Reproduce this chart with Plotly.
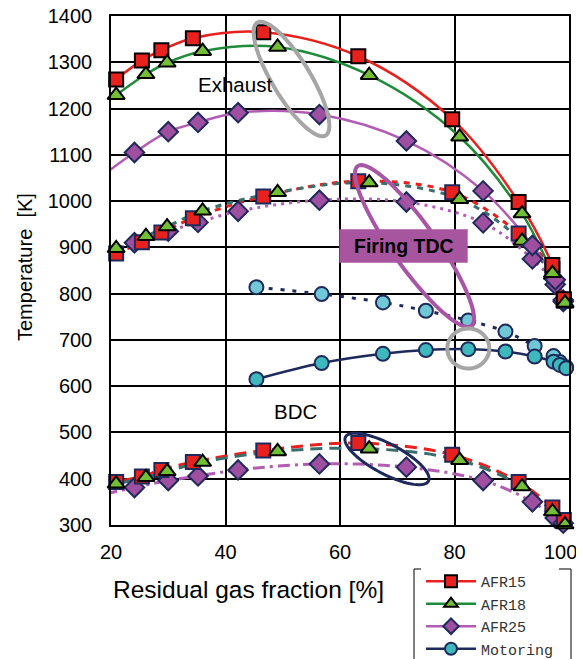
import numpy as np
import plotly.graph_objects as go

# ---------------- data ----------------
x15 = [20.9, 25.4, 28.8, 34.3, 46.6, 63.2, 79.6, 91.2, 97.1, 99.1]
exh15 = [1263, 1304, 1326, 1352, 1365, 1313, 1177, 998, 862, 788]
tdc15 = [887, 911, 932, 963, 1010, 1043, 1019, 930, 852, 785]
bdc15 = [393, 405, 419, 436, 461, 477, 452, 393, 338, 311]

x18 = [20.9, 26.1, 29.8, 36.0, 49.1, 65.1, 80.9, 91.8, 97.1, 99.3]
exh18 = [1229, 1274, 1299, 1324, 1333, 1272, 1139, 973, 844, 780]
tdc18 = [898, 924, 945, 979, 1019, 1040, 1004, 914, 840, 778]
bdc18 = [389, 403, 416, 436, 459, 465, 440, 383, 329, 301]

x25 = [24.1, 30.0, 35.2, 42.2, 56.4, 71.6, 85.0, 93.6, 97.6, 99.0]
exh25 = [1105, 1150, 1170, 1191, 1187, 1130, 1022, 904, 830, 786]
tdc25 = [910, 935, 954, 978, 1002, 998, 953, 875, 820, 783]
bdc25 = [381, 396, 406, 419, 432, 425, 396, 350, 315, 304]

xmot = [45.4, 56.8, 67.5, 75.0, 82.4, 88.9, 94.0, 97.3, 98.4, 99.5]
mot_tdc = [814, 799, 781, 763, 742, 718, 687, 665, 652, 641]
mot_bdc = [615, 650, 670, 678, 680, 675, 664, 653, 646, 639]

legend_names = ["AFR15", "AFR18", "AFR25", "Motoring"]
x_ticks = [20, 40, 60, 80, 100]
x_ticklabels = ["20", "40", "60", "80", "100"]
y_ticks = list(range(300, 1401, 100))

# ---------------- styles ----------------
RED = "#E8201E"
GREEN_L = "#1E8B3A"
GREEN_F = "#72BF35"
PURP_L = "#B25CB3"
PURP_F = "#9E4FA0"
NAVY = "#1F2A5C"
TEAL = "#3A6E6C"
CYAN_S = "#3DB9BD"
CYAN_D = "#70C8D6"

# page offset introduced by the default body margin of the html page
OFF = 8
WIN_W, WIN_H = 584, 659
W, H = WIN_W - OFF, WIN_H - OFF
# plot area in page pixels
PL, PR, PT, PB = 111, 569, 16, 525
PW, PH = PR - PL, PB - PT
L, T = PL - OFF, PT - OFF
R, B = W - (PR - OFF), H - (PB - OFF)
XR, YR = (20, 100), (300, 1400)


def px2x(px):
    return XR[0] + (px - PL) / PW * (XR[1] - XR[0])


def py2y(py):
    return YR[1] - (py - PT) / PH * (YR[1] - YR[0])


def px2paper(px):
    return (px - PL) / PW


def py2paper(py):
    return (PB - py) / PH


fig = go.Figure()


def add_line(x, y, color, width, dash="solid", extend_to=None):
    xs, ys = list(x), list(y)
    if extend_to is not None:
        c = np.polyfit(xs[:4], ys[:4], 2)
        xs = [extend_to] + xs
        ys = [float(np.polyval(c, extend_to))] + ys
    fig.add_trace(go.Scatter(x=xs, y=ys, mode="lines", showlegend=False,
                             line=dict(color=color, width=width, dash=dash,
                                       shape="spline", smoothing=1.0),
                             hoverinfo="skip"))


def add_markers(x, y, symbol, size, fill, edge, ew=2):
    fig.add_trace(go.Scatter(x=x, y=y, mode="markers", showlegend=False,
                             cliponaxis=False,
                             marker=dict(symbol=symbol, size=size, color=fill,
                                         line=dict(color=edge, width=ew))))


# BDC lines
add_line(x15, bdc15, RED, 3, "12px,7px", extend_to=19.0)
add_line(x18, bdc18, TEAL, 3, "12px,7px", extend_to=19.0)
add_line(x25, bdc25, PURP_L, 3, "12px,5px,3px,5px", extend_to=19.0)
# Firing TDC lines
add_line(x15, tdc15, RED, 3, "6px,6px")
add_line(x18, tdc18, TEAL, 3, "6px,6px")
add_line(x25, tdc25, PURP_L, 3, "3px,5px")
# Motoring lines
add_line(xmot, mot_tdc, NAVY, 3, "4px,8px")
add_line(xmot, mot_bdc, NAVY, 2.5)
# Exhaust lines
add_line(x25, exh25, PURP_L, 2.5, extend_to=19.5)
add_line(x18, exh18, GREEN_L, 2.5)
add_line(x15, exh15, RED, 2.5)

# markers
add_markers(x25, bdc25, "diamond", 15, PURP_F, NAVY)
add_markers(x15, bdc15, "square", 14, RED, NAVY)
add_markers(x18, bdc18, "triangle-up", 15, GREEN_F, "black")
add_markers(x25, tdc25, "diamond", 15, PURP_F, NAVY)
add_markers(x15, tdc15, "square", 14, RED, NAVY)
add_markers(x18, tdc18, "triangle-up", 15, GREEN_F, "black")
add_markers(xmot, mot_tdc, "circle", 14, CYAN_D, NAVY)
add_markers(xmot, mot_bdc, "circle", 14, CYAN_S, NAVY)
add_markers(x25, exh25, "diamond", 15, PURP_F, NAVY)
add_markers(x15, exh15, "square", 14, RED, "black")
add_markers(x18, exh18, "triangle-up", 15, GREEN_F, "black")

# legend entries
leg_styles = [
    (RED, "square", RED, "black"),
    (GREEN_L, "triangle-up", GREEN_F, "black"),
    (PURP_L, "diamond", PURP_F, NAVY),
    (NAVY, "circle", CYAN_S, NAVY),
]
for name, (lc, sym, fc, ec) in zip(legend_names, leg_styles):
    fig.add_trace(go.Scatter(x=[None], y=[None], mode="lines+markers", name=name,
                             line=dict(color=lc, width=2.5),
                             marker=dict(symbol=sym, size=12, color=fc,
                                         line=dict(color=ec, width=2))))


# ---------------- annotation shapes ----------------
def ellipse_path(cx, cy, a, b, ang, n=90):
    t = np.linspace(0, 2 * np.pi, n)
    th = np.deg2rad(ang)
    ex = cx + a * np.cos(t) * np.cos(th) - b * np.sin(t) * np.sin(th)
    ey = cy + a * np.cos(t) * np.sin(th) + b * np.sin(t) * np.cos(th)
    pts = [f"{px2x(u):.4f},{py2y(v):.4f}" for u, v in zip(ex, ey)]
    return "M" + " L".join(pts) + " Z"


shapes = [
    dict(type="path", path=ellipse_path(291.5, 79, 66, 19, 58.8), xref="x", yref="y",
         line=dict(color="#A6A6A6", width=4), layer="above"),
    dict(type="path", path=ellipse_path(414.5, 246, 98, 22, 54.6), xref="x", yref="y",
         line=dict(color="#A855A5", width=4), layer="above"),
    dict(type="path", path=ellipse_path(468.3, 348.5, 21, 20, 0), xref="x", yref="y",
         line=dict(color="#A6A6A6", width=4), layer="above"),
    dict(type="path", path=ellipse_path(387, 459, 47, 15, 28), xref="x", yref="y",
         line=dict(color=NAVY, width=3), layer="above"),
    dict(type="rect", xref="x", yref="y", x0=px2x(339.3), x1=px2x(467.7),
         y0=py2y(262.7), y1=py2y(229.3), fillcolor="#A8559F",
         line=dict(width=0), layer="above"),
    # legend frame (runs past the bottom edge, as in the reference)
    dict(type="rect", xref="paper", yref="paper", x0=px2paper(414), x1=px2paper(571),
         y0=py2paper(569), y1=py2paper(690), fillcolor="rgba(0,0,0,0)",
         line=dict(color="black", width=1), layer="above"),
]

FONT = "Liberation Sans, Arial"
annotations = [
    dict(text="Exhaust", x=px2x(235), y=py2y(84), xref="x", yref="y", showarrow=False,
         xanchor="center", yanchor="middle",
         font=dict(family=FONT, size=20.5, color="black")),
    dict(text="BDC", x=px2x(295), y=py2y(411), xref="x", yref="y", showarrow=False,
         xanchor="center", yanchor="middle",
         font=dict(family=FONT, size=20.5, color="black")),
    dict(text="<b>Firing TDC</b>", x=px2x(403.5), y=py2y(246), xref="x", yref="y",
         showarrow=False, xanchor="center", yanchor="middle",
         font=dict(family=FONT, size=19.5, color="black")),
    dict(text="Residual gas fraction [%]", x=px2paper(248), y=py2paper(589),
         xref="paper", yref="paper", showarrow=False, xanchor="center", yanchor="middle",
         font=dict(family=FONT, size=24.5, color="black")),
    dict(text="Temperature\u00a0\u00a0[K]", x=px2paper(25), y=py2paper(267), textangle=-90,
         xref="paper", yref="paper", showarrow=False, xanchor="center", yanchor="middle",
         font=dict(family=FONT, size=20, color="black")),
]

# the last x label sits a little left of its gridline (kept inside the page)
x_ticktext = [t if t != "100" else t + "\u00a0\u00a0\u00a0" for t in x_ticklabels]

fig.update_layout(
    width=W, height=H,
    margin=dict(l=L, r=R, t=T, b=B, autoexpand=False),
    paper_bgcolor="white", plot_bgcolor="white",
    font=dict(family=FONT, size=19, color="black"),
    shapes=shapes, annotations=annotations,
    showlegend=True,
    legend=dict(x=px2paper(421), y=py2paper(565), xanchor="left", yanchor="top",
                bgcolor="white", borderwidth=0,
                font=dict(family="Liberation Mono, Courier New, monospace", size=15,
                          color="#333333"),
                itemwidth=50, tracegroupgap=0),
)
fig.update_xaxes(range=list(XR), tickvals=x_ticks, ticktext=x_ticktext,
                 showgrid=True, gridcolor="black", gridwidth=2,
                 showline=True, linecolor="black", linewidth=1.5, mirror=True,
                 zeroline=False, ticks="", ticklabelstandoff=8,
                 ticklabeloverflow="allow", tickfont=dict(size=20))
fig.update_yaxes(range=list(YR), tickvals=y_ticks, ticktext=[str(v) for v in y_ticks],
                 showgrid=True, gridcolor="black", gridwidth=1.5,
                 showline=True, linecolor="black", linewidth=1.5, mirror=True,
                 zeroline=False, ticks="", ticklabelstandoff=13,
                 ticklabeloverflow="allow", tickfont=dict(size=20))

fig.write_html("out.html")
